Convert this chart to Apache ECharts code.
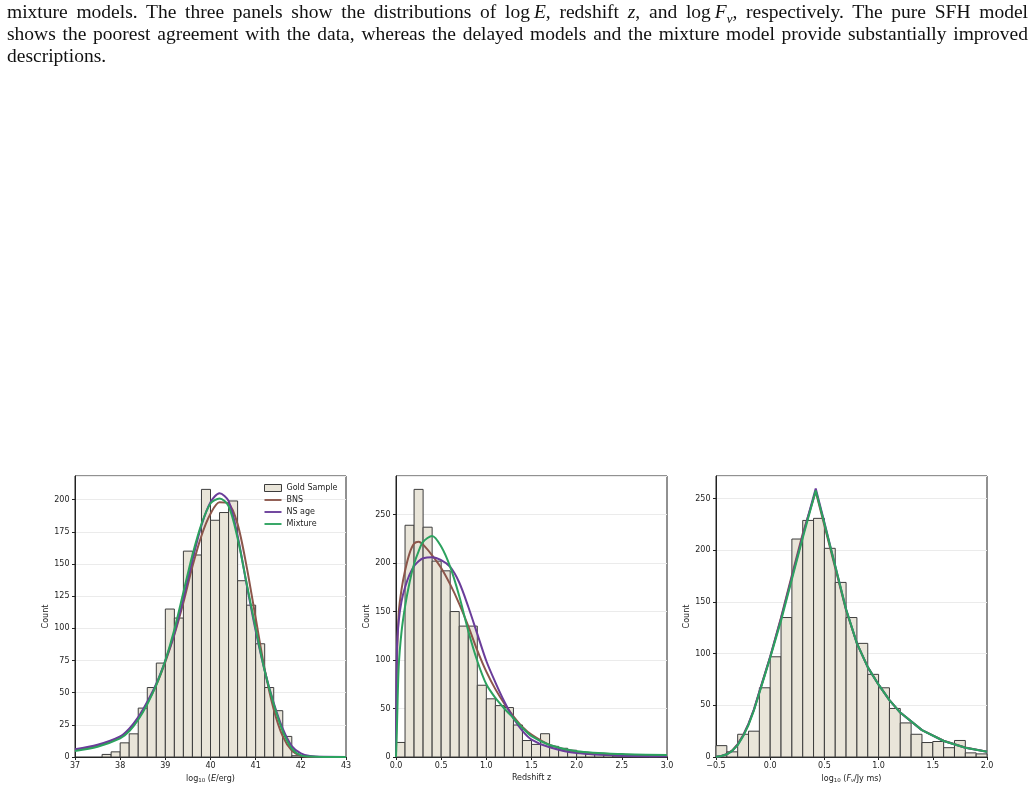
<!DOCTYPE html>
<html>
<head>
<meta charset="utf-8">
<script src="https://cdn.jsdelivr.net/npm/echarts@6/dist/echarts.min.js"></script>
<style>
  html, body { margin: 0; padding: 0; background: #fff; }
  #chart { position: absolute; left: 0; top: 0; width: 1035px; height: 789px; }
  #caption { position: absolute; left: 7px; top: 1px; width: 1021px; z-index: 2;
    font-family: 'Liberation Serif', serif; font-size: 19.5px; line-height: 22px; color: #111; }
  #caption .j { text-align: justify; text-align-last: justify; }
</style>
</head>
<body>
<div id="caption">
  <div class="j">mixture models. The three panels show the distributions of log&#8201;<i>E</i>, redshift <i>z</i>, and log&#8201;<i>F<sub style="font-size:13px;line-height:0">&nu;</sub></i>, respectively. The pure SFH model</div>
  <div class="j">shows the poorest agreement with the data, whereas the delayed models and the mixture model provide substantially improved</div>
  <div>descriptions.</div>
</div>
<div id="chart"></div>
<script>
// histograms (bin start, bin width, counts)
const eStart = 37.6, eWidth = 0.2
const eCounts = [2, 4, 11, 18, 38, 54, 73, 115, 108, 160, 157, 208, 184, 190, 199, 137, 118, 88, 54, 36, 16, 1]
const zStart = 0.0, zWidth = 0.1
const zCounts = [15, 239, 276, 237, 202, 192, 150, 135, 135, 74, 60, 53, 51, 33, 17, 13, 24, 11, 9, 7, 5, 3, 3, 2, 1, 1, 1, 1, 0, 1]
const fStart = -0.5, fWidth = 0.1
const fCounts = [11, 5, 22, 25, 67, 97, 135, 211, 229, 231, 202, 169, 135, 110, 80, 67, 47, 33, 22, 14, 15, 9, 16, 4, 3]

// model curves
const eX = [37, 37.5, 38, 38.2, 38.4, 38.6, 38.8, 39, 39.2, 39.4, 39.6, 39.8, 40, 40.2, 40.4, 40.6, 40.8, 41, 41.2, 41.4, 41.6, 41.8, 42, 42.2, 42.5, 43]
const eBNS = [5.5, 9, 15.5, 21, 30, 42, 56, 74, 95, 120, 148, 172, 189, 198, 197, 181, 148, 108, 68, 37, 16, 5, 1, 0.2, 0, 0]
const eNS = [6, 9.5, 16, 22, 31, 43, 57, 75, 96, 123, 153, 180, 198, 205, 199, 172, 134, 98, 67, 42, 22, 8.5, 2.8, 0.8, 0.1, 0]
const eMix = [4.7, 8, 14.5, 20, 29, 41, 56, 75, 99, 128, 157, 181, 197, 201, 195, 170, 135, 100, 67, 41, 20, 6.5, 1.3, 0.3, 0, 0]

const zX = [0, 0.01, 0.03, 0.06, 0.1, 0.15, 0.2, 0.25, 0.3, 0.4, 0.5, 0.6, 0.7, 0.8, 0.9, 1.0, 1.1, 1.2, 1.3, 1.4, 1.5, 1.7, 2.0, 2.5, 3.0]
const zBNS = [0, 95, 148, 172, 192, 210, 220, 222, 219, 208, 195, 178, 158, 135, 110, 88, 70, 55, 42, 31, 23, 12.5, 5.5, 2.5, 1.5]
const zNS = [0, 110, 140, 160, 175, 188, 197, 202, 205, 206, 203, 196, 180, 155, 127, 99, 77, 57, 40, 27, 18, 10, 4, 1.3, 0.8]
const zMix = [0, 30, 93, 128, 155, 180, 199, 212, 222, 228, 217, 196, 166, 130, 99, 75, 61, 50, 40, 30, 21.5, 12.4, 6, 3, 2]

const fX = [-0.5, -0.45, -0.4, -0.35, -0.3, -0.25, -0.2, -0.15, -0.1, -0.05, 0, 0.1, 0.2, 0.3, 0.42, 0.5, 0.6, 0.7, 0.8, 0.9, 1.0, 1.1, 1.2, 1.4, 1.6, 1.8, 2.0]
const fBNS = [0.3, 1, 2.8, 6.5, 12.5, 21, 32, 46, 63, 80, 97, 135, 176, 216, 257, 224, 183, 142, 110, 87, 70, 55, 43, 26, 15.8, 9.2, 5.2]
const fNS = [0.3, 1, 2.7, 6, 12, 20.5, 32, 46, 63, 80, 97, 134, 174, 214, 260, 227, 185, 143, 110, 87, 70, 55, 43, 26, 15.5, 9, 5]
const fMix = [0.3, 1, 2.6, 6, 11.5, 20, 31, 45, 62, 79, 96, 132, 172, 212, 258, 226, 185, 143, 110, 87, 70, 55, 43, 26, 15.5, 9, 5]

const C_BAR = '#e9e5d9', C_EDGE = '#3c3c3c'
const C_BNS = '#8c564b', C_NS = '#6a3d9a', C_MIX = '#2ca25f'
const FONT = 'DejaVu Sans'
const LINE_ICON = 'path://M0,0 H20 V2.2 H0 Z'

function bins(start, width, counts) {
  return counts.map((c, i) => [+(start + i * width).toFixed(3), +(start + (i + 1) * width).toFixed(3), c])
}
function zip(xs, ys) { return xs.map((x, i) => [x, ys[i]]) }

function histSeries(idx, data) {
  return {
    name: 'Gold Sample', type: 'custom', xAxisIndex: idx, yAxisIndex: idx,
    encode: { x: [0, 1], y: 2 },
    itemStyle: { color: C_BAR, borderColor: C_EDGE },
    renderItem: (params, api) => {
      const p0 = api.coord([api.value(0), api.value(2)])
      const p1 = api.coord([api.value(1), 0])
      return {
        type: 'rect',
        shape: { x: p0[0], y: p0[1], width: p1[0] - p0[0], height: p1[1] - p0[1] },
        style: { fill: C_BAR, stroke: C_EDGE, lineWidth: 1 }
      }
    },
    data: data, z: 1
  }
}
function lineSeries(idx, name, color, xs, ys, smooth) {
  return {
    name: name, type: 'line', xAxisIndex: idx, yAxisIndex: idx,
    data: zip(xs, ys), symbol: 'none', showSymbol: false,
    smooth: smooth,
    lineStyle: { color: color, width: 2 }, itemStyle: { color: color }, z: 3
  }
}

const lefts = [75, 396, 716]
const yMaxes = [218.4, 289.8, 272]
const yIntervals = [25, 50, 50]
const xRanges = [[37, 43, 1], [0, 3, 0.5], [-0.5, 2, 0.5]]
const xNames = ['log{sub|10} ({it|E}/erg)', 'Redshift z', 'log{sub|10} ({it|F}{subit|ν}/Jy ms)']

const labelStyle = { fontSize: 8, color: '#222', fontFamily: FONT }

const option = {
  backgroundColor: '#fff',
  animation: false,
  grid: lefts.map(l => ({ left: l, top: 476, width: 271, height: 281, show: true, borderColor: '#222', borderWidth: 1, backgroundColor: 'transparent' })),
  xAxis: xRanges.map((r, i) => ({
    type: 'value', gridIndex: i, min: r[0], max: r[1], interval: r[2],
    axisLine: { show: true, onZero: false, lineStyle: { color: '#222', width: 1 } },
    axisTick: { show: true, length: 3, lineStyle: { color: '#222' } },
    axisLabel: Object.assign({ margin: 5, formatter: v => (i === 0 ? String(v) : v.toFixed(1)).replace('-', '\u2212') }, labelStyle),
    splitLine: { show: false },
    name: xNames[i], nameLocation: 'middle', nameGap: 17,
    nameTextStyle: Object.assign({
      rich: {
        sub: { fontSize: 5.5, fontFamily: FONT, color: '#222', padding: [4, 0, 0, 0] },
        it: { fontSize: 8, fontStyle: 'italic', fontFamily: FONT, color: '#222' },
        subit: { fontSize: 5.5, fontStyle: 'italic', fontFamily: FONT, color: '#222', padding: [4, 0, 0, 0] }
      }
    }, labelStyle)
  })),
  yAxis: yMaxes.map((m, i) => ({
    type: 'value', gridIndex: i, min: 0, max: m, interval: yIntervals[i],
    axisLine: { show: true, onZero: false, lineStyle: { color: '#222', width: 1 } },
    axisTick: { show: true, length: 3, lineStyle: { color: '#222' } },
    axisLabel: Object.assign({ margin: 5.5, showMaxLabel: false }, labelStyle),
    splitLine: { show: true, lineStyle: { color: '#ebebeb', width: 1 } },
    name: 'Count', nameLocation: 'middle', nameRotate: 90, nameGap: 25,
    nameTextStyle: labelStyle
  })),
  legend: {
    orient: 'vertical', left: 259, top: 479, itemWidth: 17, itemHeight: 7, itemGap: 4,
    textStyle: labelStyle,
    data: [
      { name: 'Gold Sample', icon: 'rect', itemStyle: { color: C_BAR, borderColor: C_EDGE, borderWidth: 1 } },
      { name: 'BNS', icon: LINE_ICON, itemStyle: { color: C_BNS } },
      { name: 'NS age', icon: LINE_ICON, itemStyle: { color: C_NS } },
      { name: 'Mixture', icon: LINE_ICON, itemStyle: { color: C_MIX } }
    ]
  },
  series: [
    histSeries(0, bins(eStart, eWidth, eCounts)),
    lineSeries(0, 'BNS', C_BNS, eX, eBNS, 0.3),
    lineSeries(0, 'NS age', C_NS, eX, eNS, 0.3),
    lineSeries(0, 'Mixture', C_MIX, eX, eMix, 0.3),
    histSeries(1, bins(zStart, zWidth, zCounts)),
    lineSeries(1, 'BNS', C_BNS, zX, zBNS, 0.3),
    lineSeries(1, 'NS age', C_NS, zX, zNS, 0.3),
    lineSeries(1, 'Mixture', C_MIX, zX, zMix, 0.3),
    histSeries(2, bins(fStart, fWidth, fCounts)),
    lineSeries(2, 'BNS', C_BNS, fX, fBNS, false),
    lineSeries(2, 'NS age', C_NS, fX, fNS, false),
    lineSeries(2, 'Mixture', C_MIX, fX, fMix, false)
  ]
}

const chart = echarts.init(document.getElementById('chart'))
chart.setOption(option)
</script>
</body>
</html>
